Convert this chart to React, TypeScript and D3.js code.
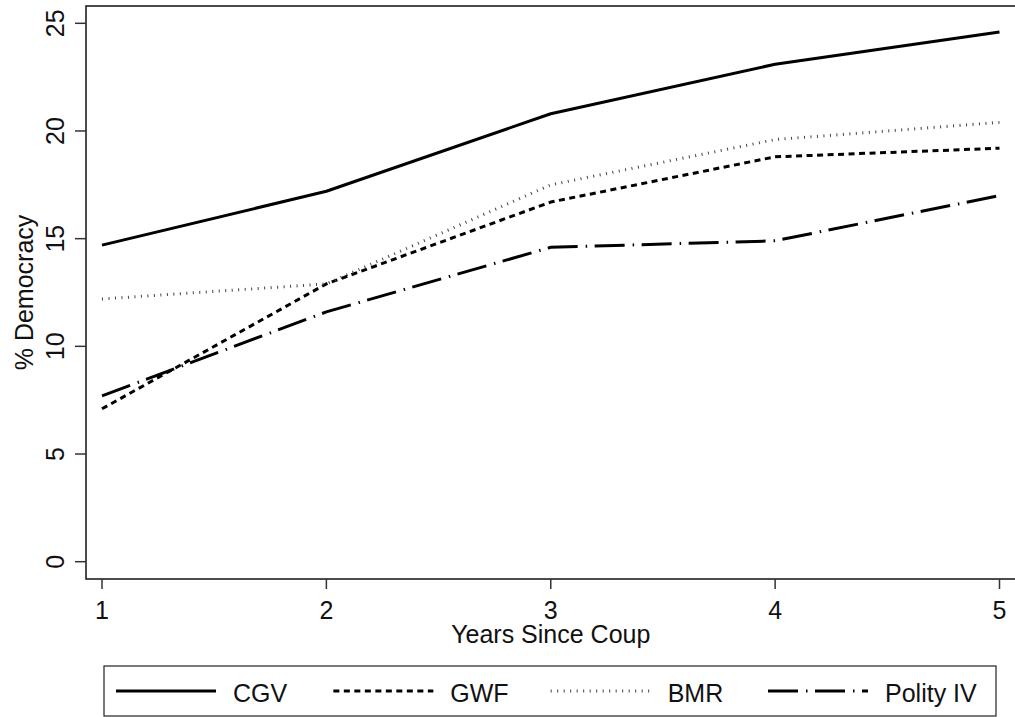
import { useEffect, useRef } from 'react';
import * as d3 from 'd3';

const years = [1, 2, 3, 4, 5];
const seriesNames = ['CGV', 'GWF', 'BMR', 'Polity IV'];
const cgv = [14.7, 17.2, 20.8, 23.1, 24.6];
const gwf = [7.1, 12.9, 16.7, 18.8, 19.2];
const bmr = [12.2, 12.9, 17.5, 19.6, 20.4];
const polity = [7.7, 11.6, 14.6, 14.9, 17.0];
const yTicks = [0, 5, 10, 15, 20, 25];

const W = 1015;
const H = 717;
const FONT = '"Liberation Sans", Arial, sans-serif';

// line styles per series
const styles = [
  { width: 3, dash: null as string | null, color: '#000' },
  { width: 3, dash: '6 4.5', color: '#000' },
  { width: 3, dash: '1 5.5', color: '#444' },
  { width: 3, dash: '30 8 1.5 7.5', color: '#000' },
];

export default function App() {
  const svgRef = useRef<SVGSVGElement>(null);

  useEffect(() => {
    if (!svgRef.current) return;
    const svg = d3.select(svgRef.current);
    svg.selectAll('*').remove();

    const frame = { left: 86, top: 6, bottom: 579, right: 1018 };
    const x = d3.scaleLinear().domain([1, 5]).range([102, 999.5]);
    const y = d3.scaleLinear().domain([0, 25]).range([561.7, 23.3]);

    // plot region border
    svg
      .append('rect')
      .attr('x', frame.left)
      .attr('y', frame.top)
      .attr('width', frame.right - frame.left)
      .attr('height', frame.bottom - frame.top)
      .attr('fill', 'none')
      .attr('stroke', '#111')
      .attr('stroke-width', 1.5);

    // y axis ticks + labels
    const yAxis = svg.append('g');
    yTicks.forEach((t) => {
      yAxis
        .append('line')
        .attr('x1', 75)
        .attr('x2', frame.left)
        .attr('y1', y(t))
        .attr('y2', y(t))
        .attr('stroke', '#333')
        .attr('stroke-width', 1.5);
      yAxis
        .append('text')
        .attr('transform', `translate(64,${y(t)}) rotate(-90)`)
        .attr('text-anchor', 'middle')
        .attr('font-family', FONT)
        .attr('font-size', 25)
        .attr('fill', '#111')
        .text(t);
    });

    // x axis ticks + labels
    const xAxis = svg.append('g');
    years.forEach((t) => {
      xAxis
        .append('line')
        .attr('x1', x(t))
        .attr('x2', x(t))
        .attr('y1', frame.bottom)
        .attr('y2', 589)
        .attr('stroke', '#333')
        .attr('stroke-width', 1.5);
      xAxis
        .append('text')
        .attr('x', x(t))
        .attr('y', 619)
        .attr('text-anchor', 'middle')
        .attr('font-family', FONT)
        .attr('font-size', 25)
        .attr('fill', '#111')
        .text(t);
    });

    // axis titles
    svg
      .append('text')
      .attr('x', x(3))
      .attr('y', 643)
      .attr('text-anchor', 'middle')
      .attr('font-family', FONT)
      .attr('font-size', 25)
      .attr('fill', '#111')
      .text('Years Since Coup');

    svg
      .append('text')
      .attr('transform', `translate(33,${(frame.top + frame.bottom) / 2}) rotate(-90)`)
      .attr('text-anchor', 'middle')
      .attr('font-family', FONT)
      .attr('font-size', 25)
      .attr('fill', '#111')
      .text('% Democracy');

    // lines
    const allSeries = [cgv, gwf, bmr, polity];
    const line = d3
      .line<number>()
      .x((_, i) => x(years[i]))
      .y((d) => y(d));

    allSeries.forEach((vals, i) => {
      const s = styles[i];
      svg
        .append('path')
        .datum(vals)
        .attr('d', line)
        .attr('fill', 'none')
        .attr('stroke', s.color)
        .attr('stroke-width', s.width)
        .attr('stroke-dasharray', s.dash)
        .attr('stroke-linejoin', 'round');
    });

    // legend
    const legend = svg.append('g');
    legend
      .append('rect')
      .attr('x', 104)
      .attr('y', 666)
      .attr('width', 892)
      .attr('height', 50)
      .attr('fill', 'white')
      .attr('stroke', '#222')
      .attr('stroke-width', 1.2);

    const legX = d3.scalePoint<string>().domain(seriesNames).range([116, 768]);
    seriesNames.forEach((name, i) => {
      const s = styles[i];
      const lx = legX(name)!;
      legend
        .append('line')
        .attr('x1', lx)
        .attr('x2', lx + 100)
        .attr('y1', 691)
        .attr('y2', 691)
        .attr('stroke', s.color)
        .attr('stroke-width', s.width)
        .attr('stroke-dasharray', s.dash);
      legend
        .append('text')
        .attr('x', lx + 117)
        .attr('y', 702)
        .attr('font-family', FONT)
        .attr('font-size', 25)
        .attr('fill', '#111')
        .text(name);
    });
  }, []);

  return (
    <svg
      ref={svgRef}
      width={W}
      height={H}
      style={{ position: 'absolute', left: 0, top: 0, background: 'white' }}
    />
  );
}
